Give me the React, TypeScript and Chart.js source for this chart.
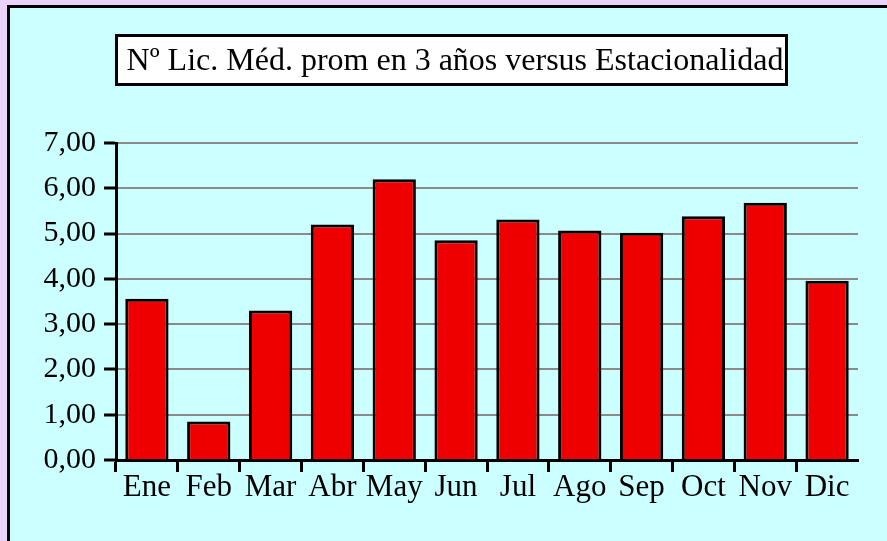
import React, { useEffect, useRef } from 'react';
import { Chart, registerables } from 'chart.js';

Chart.register(...registerables);

const categories = ['Ene', 'Feb', 'Mar', 'Abr', 'May', 'Jun', 'Jul', 'Ago', 'Sep', 'Oct', 'Nov', 'Dic'];
const values = [3.56, 0.85, 3.3, 5.2, 6.2, 4.85, 5.31, 5.07, 5.02, 5.38, 5.68, 3.96];
const yMin = 0;
const yMax = 7;
const yStep = 1;
const titleText = 'Nº Lic. Méd. prom en 3 años versus Estacionalidad';

const FONT = '"Liberation Serif", "Times New Roman", serif';

const framePlugin = {
  id: 'framePlugin',
  beforeDraw(chart: any) {
    const ctx = chart.ctx as CanvasRenderingContext2D;
    const w = chart.width;
    const h = chart.height;
    ctx.save();
    ctx.fillStyle = '#EAD2F8';
    ctx.fillRect(0, 0, w, h);
    ctx.fillStyle = '#CCFFFF';
    ctx.fillRect(7, 5, w, h);
    ctx.strokeStyle = '#000';
    ctx.lineWidth = 3;
    ctx.strokeRect(8.5, 6.5, w + 10, h + 10);
    // title box
    ctx.fillStyle = '#FFFFFF';
    ctx.fillRect(116, 35, 670, 49);
    ctx.strokeRect(116.5, 35.5, 670, 49);
    ctx.fillStyle = '#000';
    ctx.font = `32px ${FONT}`;
    ctx.textAlign = 'center';
    ctx.textBaseline = 'alphabetic';
    ctx.fillText(titleText, 455, 70);
    ctx.restore();
  },
};

export default function App() {
  const ref = useRef<HTMLCanvasElement | null>(null);

  useEffect(() => {
    document.body.style.margin = '0';
    const canvas = ref.current;
    if (!canvas) return;
    const chart = new Chart(canvas, {
      type: 'bar',
      data: {
        labels: categories,
        datasets: [
          {
            data: values,
            backgroundColor: '#EE0000',
            borderColor: '#000000',
            borderWidth: 3,
            barPercentage: 0.7,
            categoryPercentage: 1,
          },
        ],
      },
      options: {
        responsive: false,
        animation: false,
        devicePixelRatio: 1,
        layout: { padding: { top: 143, right: 29, left: 0, bottom: 0 } },
        plugins: {
          legend: { display: false },
          title: { display: false },
          tooltip: { enabled: false },
        },
        scales: {
          x: {
            z: 1,
            grid: {
              display: true,
              offset: true,
              drawOnChartArea: false,
              drawTicks: true,
              tickLength: 12,
              tickWidth: 3,
              tickColor: (c: any) => (c.type === 'tick' ? '#000' : 'rgba(0,0,0,0)'),
            },
            border: { display: true, color: '#000', width: 3 },
            ticks: {
              color: '#000',
              padding: -3,
              font: { family: FONT, size: 31 },
              maxRotation: 0,
              autoSkip: false,
            },
            afterFit: (s: any) => {
              s.height = 81;
            },
          },
          y: {
            min: yMin,
            max: yMax,
            grid: {
              color: (c: any) => (c.tick && c.tick.value === 0 ? 'rgba(0,0,0,0)' : '#8a8a8a'),
              lineWidth: 2,
              drawTicks: true,
              tickLength: 12,
              tickWidth: 3,
              tickColor: '#000',
            },
            border: { display: true, color: '#000', width: 3 },
            ticks: {
              stepSize: yStep,
              color: '#000',
              padding: 8,
              font: { family: FONT, size: 30 },
              callback: (v: any) => Number(v).toFixed(2).replace('.', ','),
            },
            afterFit: (s: any) => {
              s.width = 116;
            },
          },
        },
      },
      plugins: [framePlugin],
    });
    return () => chart.destroy();
  }, []);

  return (
    <div style={{ width: 887, height: 541, overflow: 'hidden' }}>
      <canvas ref={ref} width={887} height={541} style={{ display: 'block' }} />
    </div>
  );
}
